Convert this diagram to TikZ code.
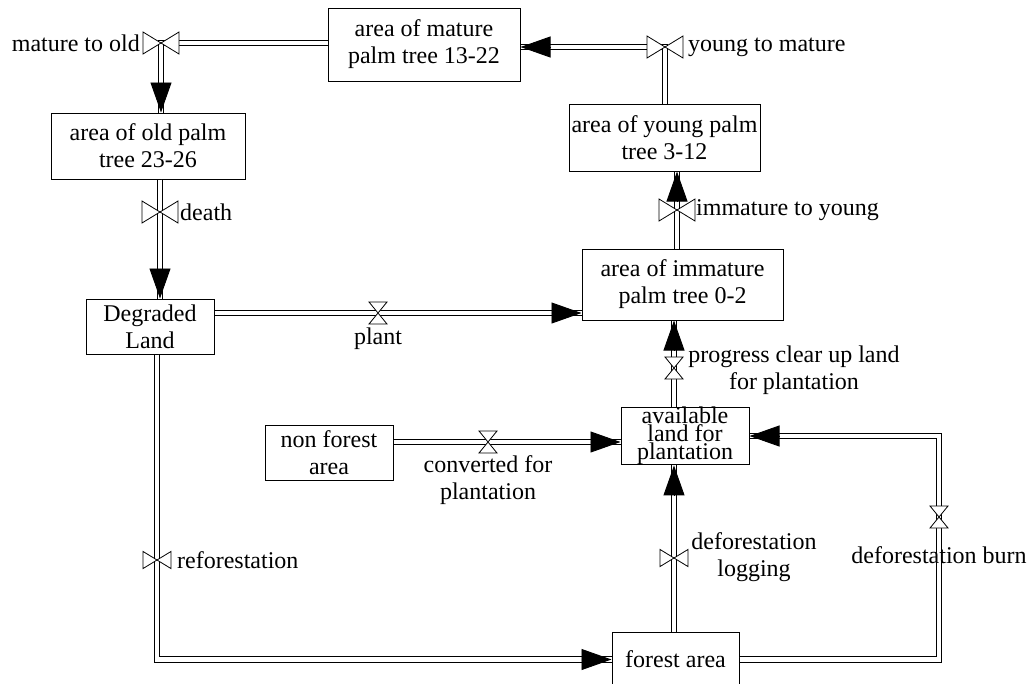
\documentclass[tikz,border=0pt]{standalone}
\usepackage{fontspec}
\setmainfont{Liberation Serif}
\usetikzlibrary{arrows.meta,calc}
\tikzset{
  stock/.style={draw, line width=1pt, align=center, inner sep=0pt, font=\fontsize{24}{27}\selectfont},
  pipe/.style={draw, line width=0.9pt, double, double distance=4.5pt, line join=miter},
  tip/.style={-{Triangle[length=30pt,width=21pt]}, line width=0.9pt},
  lbl/.style={inner sep=0pt, align=center, font=\fontsize{24}{27}\selectfont},
  bowtie/.pic={\draw[line width=0.8pt, fill=white] (-18,-11) -- (0,0) -- (-18,11) -- cycle (18,-11) -- (0,0) -- (18,11) -- cycle;},
  hourglass/.pic={\draw[line width=0.8pt, fill=white] (-9,-11) -- (0,0) -- (9,-11) -- cycle (-9,11) -- (0,0) -- (9,11) -- cycle;}
}
\begin{document}
\begin{tikzpicture}[x=1pt,y=1pt,yscale=-1,xscale=1]
        \useasboundingbox (0,0) rectangle (1030,683);

        %Stocks
        \node[stock, minimum width=192pt, minimum height=73pt] (mature) at (424,44.5) {area of mature\\palm tree 13-22};
        \node[stock, minimum width=194pt, minimum height=66pt] (old) at (148,146) {area of old palm\\tree 23-26};
        \node[stock, minimum width=191pt, minimum height=67pt] (young) at (664.5,137.5) {area of young palm\\tree 3-12};
        \node[stock, minimum width=201pt, minimum height=71pt] (immature) at (682.5,284.5) {area of immature\\palm tree 0-2};
        \node[stock, minimum width=128pt, minimum height=55pt] (degraded) at (150,326.5) {Degraded\\Land};
        \node[stock, minimum width=128pt, minimum height=55pt] (nonforest) at (329,452.5) {non forest\\area};
        \node[stock, minimum width=128pt, minimum height=53pt, font=\fontsize{24}{14}\selectfont] (available) at (685,436) {available\\land for\\plantation};
        \node[stock, minimum width=127pt, minimum height=55pt] (forest) at (675.5,659.5) {forest area};

        %Valve points
        \coordinate (mto) at (161,43);
        \coordinate (ytm) at (665,47);
        \coordinate (death) at (160,212);
        \coordinate (plant) at (378,313);
        \coordinate (imy) at (677,210);
        \coordinate (pcl) at (674,368);
        \coordinate (cfp) at (488,442);
        \coordinate (dlog) at (674,558);
        \coordinate (dburn) at (939,517);
        \coordinate (refo) at (157,560);

        %Flow mature to old
        \coordinate (oldin) at (mto |- old.north);
        \draw[pipe] (mature.west |- mto) -- (mto) -- (oldin);
        \draw[tip] ($(oldin)+(0,-30)$) -- (oldin);
        %Flow young to mature
        \coordinate (matin) at (ytm -| mature.east);
        \draw[pipe] (ytm |- young.north) -- (ytm) -- (matin);
        \draw[tip] ($(matin)+(30,0)$) -- (matin);
        %Flow death
        \coordinate (degin) at (death |- degraded.north);
        \draw[pipe] (death |- old.south) -- (degin);
        \draw[tip] ($(degin)+(0,-30)$) -- (degin);
        %Flow plant
        \coordinate (immin) at (plant -| immature.west);
        \draw[pipe] (plant -| degraded.east) -- (immin);
        \draw[tip] ($(immin)+(-30,0)$) -- (immin);
        %Flow immature to young
        \coordinate (youin) at (imy |- young.south);
        \draw[pipe] (imy |- immature.north) -- (youin);
        \draw[tip] ($(youin)+(0,30)$) -- (youin);
        %Flow progress clear up land
        \coordinate (immbot) at (pcl |- immature.south);
        \draw[pipe] (pcl |- available.north) -- (immbot);
        \draw[tip] ($(immbot)+(0,30)$) -- (immbot);
        %Flow converted for plantation
        \coordinate (avlin) at (cfp -| available.west);
        \draw[pipe] (cfp -| nonforest.east) -- (avlin);
        \draw[tip] ($(avlin)+(-30,0)$) -- (avlin);
        %Flow deforestation logging
        \coordinate (avlbot) at (dlog |- available.south);
        \draw[pipe] (dlog |- forest.north) -- (avlbot);
        \draw[tip] ($(avlbot)+(0,30)$) -- (avlbot);
        %Flow deforestation burn
        \draw[pipe] (forest.east) -- (forest.east -| dburn) -- (dburn) -- (dburn |- available.east) -- (available.east);
        \draw[tip] ($(available.east)+(30,0)$) -- (available.east);
        %Flow reforestation
        \draw[pipe] (refo |- degraded.south) -- (refo) -- (refo |- forest.west) -- (forest.west);
        \draw[tip] ($(forest.west)+(-30,0)$) -- (forest.west);

        %Valves
        \pic at (mto) {bowtie};
        \pic at (ytm) {bowtie};
        \pic at (death) {bowtie};
        \pic at (imy) {bowtie};
        \pic[scale=0.78] at (dlog) {bowtie};
        \pic[scale=0.78] at (refo) {bowtie};
        \pic at (plant) {hourglass};
        \pic at (pcl) {hourglass};
        \pic at (cfp) {hourglass};
        \pic at (dburn) {hourglass};

        % Text Node
        \node[lbl, anchor=east] (lmto) at (140,43) {mature to old};
        % Text Node
        \node[lbl, anchor=west] (lytm) at (688,47) {young to mature};
        % Text Node
        \node[lbl, anchor=west] (ldeath) at (180,212) {death};
        % Text Node
        \node[lbl] (lplant) at (378,339) {plant};
        % Text Node
        \node[lbl, anchor=west] (limy) at (696,210) {immature to young};
        % Text Node
        \node[lbl] (lpcl) at (794,370) {progress clear up land\\for plantation};
        % Text Node
        \node[lbl] (lcfp) at (488,480) {converted for\\plantation};
        % Text Node
        \node[lbl] (ldlog) at (754,557) {deforestation\\logging};
        % Text Node
        \node[lbl] (ldburn) at (939,555) {deforestation burn};
        % Text Node
        \node[lbl, anchor=west] (lrefo) at (177,560) {reforestation};

\end{tikzpicture}
\end{document}
